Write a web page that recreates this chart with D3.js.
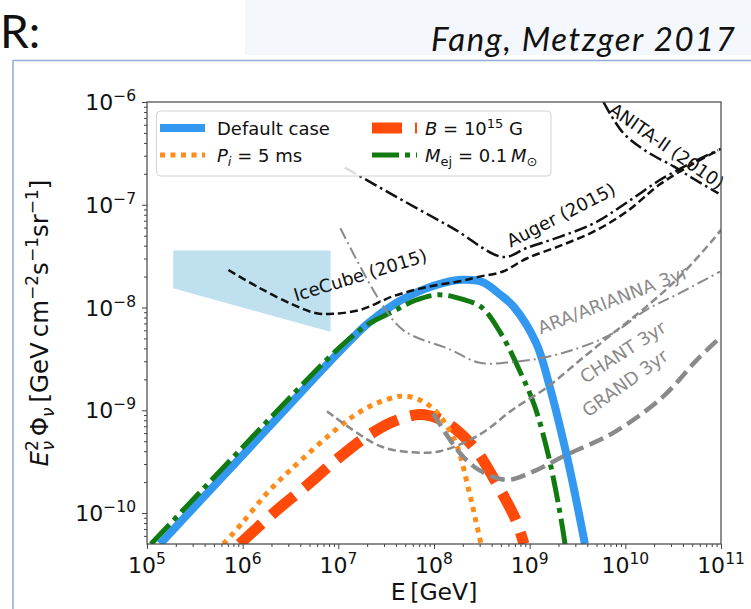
<!DOCTYPE html>
<html><head><meta charset="utf-8">
<script src="https://cdn.jsdelivr.net/npm/d3@7"></script>
<style>
body{margin:0;background:#fff;}
svg{display:block;}
</style></head><body>
<svg id="c" width="751" height="609"></svg>
<script>
// ---- model spectra: E (GeV) and E^2 Phi (GeV cm^-2 s^-1 sr^-1) ----
const E_default = [1.37e5, 3.16e5, 1e6, 3.16e6, 1e7, 2e7, 3.98e7, 7.94e7, 1.26e8, 2e8, 3.16e8, 5e8, 6.8e8, 1.17e9, 1.62e9, 2.34e9, 2.95e9, 3.78e9];
const F_default = [5e-11, 1.16e-10, 3.66e-10, 1.16e-9, 3.63e-9, 6.9e-9, 1.1e-8, 1.51e-8, 1.74e-8, 1.86e-8, 1.78e-8, 1.32e-8, 1.02e-8, 4.5e-9, 1.7e-9, 4.3e-10, 1.6e-10, 5e-11];

const E_mej = [1.1e5, 3.16e5, 1e6, 3.16e6, 1e7, 2e7, 3.7e7, 6.3e7, 1.12e8, 2e8, 3.16e8, 5e8, 7.9e8, 1.12e9, 1.58e9, 2.14e9, 2.34e9];
const F_mej = [5e-11, 1.41e-10, 4.37e-10, 1.35e-9, 3.98e-9, 6.8e-9, 9.1e-9, 1.17e-8, 1.33e-8, 1.2e-8, 1.0e-8, 5.6e-9, 2.4e-9, 1.12e-9, 3.55e-10, 8.5e-11, 5e-11];

const E_pi5 = [6.3e5, 1e6, 1.78e6, 3.16e6, 1e7, 1.58e7, 2.5e7, 4e7, 5e7, 7.1e7, 1e8, 1.32e8, 1.74e8, 2.3e8, 2.7e8, 3.1e8];
const F_pi5 = [5e-11, 8.1e-11, 1.55e-10, 2.63e-10, 6.8e-10, 9.3e-10, 1.17e-9, 1.35e-9, 1.38e-9, 1.26e-9, 1.02e-9, 7.4e-10, 4.5e-10, 1.7e-10, 8.9e-11, 5e-11];

const E_b15 = [9.3e5, 2.1e6, 4.7e6, 1.05e7, 2e7, 3.8e7, 7.1e7, 1.12e8, 1.7e8, 2.75e8, 4.5e8, 7.2e8, 8.7e8];
const F_b15 = [5e-11, 1e-10, 1.86e-10, 3.55e-10, 5.6e-10, 7.8e-10, 9.1e-10, 8.3e-10, 6.5e-10, 4.1e-10, 1.95e-10, 8.5e-11, 5e-11];

// ---- measured flux region and limits ----
const E_band = [1.88e5, 8.3e6, 8.3e6, 1.88e5];
const F_band = [3.58e-8, 3.58e-8, 5.8e-9, 1.54e-8];

const E_icecube = [7.1e5, 1.5e6, 3.4e6, 5.9e6, 8.9e6, 1.7e7, 3.76e7, 8.3e7, 1.86e8, 3e8, 5.25e8, 9.3e8, 2.1e9, 4.7e9, 1.02e10, 2.3e10, 5.1e10, 1e11];
const F_icecube = [2.32e-8, 1.55e-8, 1.06e-8, 8.8e-9, 8.7e-9, 9.5e-9, 1.29e-8, 1.58e-8, 1.8e-8, 2e-8, 2.24e-8, 3.0e-8, 4.0e-8, 5.5e-8, 8.5e-8, 1.58e-7, 2.5e-7, 3.5e-7];

const E_auger = [1.17e7, 4e7, 1.58e8, 5.3e8, 9.3e8, 2.1e9, 4.7e9, 1.02e10, 2.3e10, 5.1e10, 9.3e10];
const F_auger = [2.3e-7, 1.2e-7, 5.9e-8, 3.1e-8, 3.8e-8, 4.9e-8, 6.6e-8, 1.04e-7, 1.74e-7, 2.6e-7, 3.4e-7];

const E_anita = [5.9e9, 9.5e9, 1.67e10, 3.2e10, 5.1e10, 9.4e10];
const F_anita = [1e-6, 5e-7, 3.3e-7, 2.36e-7, 1.8e-7, 1.29e-7];

// ---- projected sensitivities ----
const E_ara = [1.05e7, 2.7e7, 4.8e7, 1.48e8, 3e8, 6.8e8, 1.5e9, 3.4e9, 7.4e9, 1.66e10, 3.7e10, 9.8e10];
const F_ara = [5.9e-8, 1.17e-8, 6e-9, 3.9e-9, 2.9e-9, 2.95e-9, 3.3e-9, 4.1e-9, 5.6e-9, 9.5e-9, 1.38e-8, 2.24e-8];

const E_chant = [7.6e6, 2.7e7, 6e7, 1.15e8, 3e8, 6.8e8, 1.5e9, 3.4e9, 7.4e9, 1.66e10, 3.7e10, 8.3e10, 1e11];
const F_chant = [9.8e-10, 4.5e-10, 3.9e-10, 4e-10, 5.8e-10, 1.03e-9, 1.66e-9, 3.1e-9, 5.6e-9, 1.02e-8, 2e-8, 4.6e-8, 5.7e-8];

const E_grand = [9.8e7, 1.86e8, 3e8, 5.7e8, 1e9, 2.45e9, 7.4e9, 2.46e10, 5.6e10, 9.8e10];
const F_grand = [9.3e-10, 3.85e-10, 2.6e-10, 2.1e-10, 2.45e-10, 3.7e-10, 6e-10, 1.35e-9, 3.1e-9, 5.1e-9];

// ---- axes ----
const xTickExp = [5, 6, 7, 8, 9, 10, 11];
const yTickExp = [-10, -9, -8, -7, -6];

// curve labels: text, E, flux, rotation (deg), colour
const curveLabels = [
  {t: "IceCube (2015)", e: 1.69e7, f: 2.07e-8, r: -17, c: "#111"},
  {t: "Auger (2015)", e: 2.12e9, f: 7.96e-8, r: -27, c: "#111"},
  {t: "ANITA-II (2010)", e: 2.72e10, f: 3.73e-7, r: 35, c: "#111"},
  {t: "ARA/ARIANNA 3yr", e: 7.4e9, f: 1.19e-8, r: -21, c: "#8a8a8a"},
  {t: "CHANT 3yr", e: 9.4e9, f: 3.7e-9, r: -33, c: "#8a8a8a"},
  {t: "GRAND 3yr", e: 9.9e9, f: 1.85e-9, r: -36, c: "#8a8a8a"}
];

const svg = d3.select("#c");
const FONT = "DejaVu Sans";
const L = 147, R = 721, T = 102, B = 544;

// slide decoration around the figure
svg.append("rect").attr("x", 245).attr("y", 0).attr("width", 506).attr("height", 55).attr("fill", "#f4f8fc");
svg.append("text").attr("x", 0).attr("y", 48).attr("font-family", "Lato").attr("font-size", 46).attr("fill", "#111").text("R:");
svg.append("text").attr("x", 735).attr("y", 51).attr("text-anchor", "end").attr("font-family", "Lato")
  .attr("font-style", "italic").attr("font-size", 33).attr("textLength", 304).attr("lengthAdjust", "spacing")
  .attr("fill", "#111").text("Fang, Metzger 2017");
svg.append("path").attr("d", "M13,609 V60.5 H751").attr("fill", "none").attr("stroke", "#93acd3").attr("stroke-width", 1.5);

const x = d3.scaleLog().domain([1e5, 1e11]).range([L, R]);
const y = d3.scaleLog().domain([5e-11, 1e-6]).range([B, T]);

svg.append("clipPath").attr("id", "plot").append("rect").attr("x", L).attr("y", T).attr("width", R - L).attr("height", B - T);
const g = svg.append("g").attr("clip-path", "url(#plot)");

const pairs = (E, F) => E.map((e, i) => [e, F[i]]);
const line = d3.line().x(d => x(d[0])).y(d => y(d[1])).curve(d3.curveCatmullRom.alpha(0.5));

// shaded flux region
g.append("path").attr("d", d3.line().x(d => x(d[0])).y(d => y(d[1]))(pairs(E_band, F_band)) + "Z")
  .attr("fill", "#bee0ef");

function draw(E, F, color, width, dash) {
  g.append("path").attr("d", line(pairs(E, F))).attr("fill", "none")
    .attr("stroke", color).attr("stroke-width", width)
    .attr("stroke-dasharray", dash || null);
}

// model curves
draw(E_default, F_default, "#3399f0", 8);
draw(E_mej, F_mej, "#117a11", 5, "27,6,5,6");
draw(E_b15, F_b15, "#ff4a0a", 11, "30,13");
draw(E_pi5, F_pi5, "#ff8c1a", 5, "5,5.5");

// limits and sensitivities
draw(E_ara, F_ara, "#8a8a8a", 2, "12,4,2,4");
draw(E_chant, F_chant, "#8a8a8a", 2.5, "8,4");
draw(E_grand, F_grand, "#8a8a8a", 4.5, "15,6.5");
draw(E_icecube, F_icecube, "#111", 2.5, "8,4");
draw(E_auger, F_auger, "#111", 2.5, "13,4,2.5,4");
draw(E_anita, F_anita, "#111", 2.5, "13,4,2.5,4");

// curve labels
curveLabels.forEach(d => {
  svg.append("text").attr("transform", `translate(${x(d.e)},${y(d.f)}) rotate(${d.r})`)
    .attr("text-anchor", "middle").attr("dominant-baseline", "central")
    .attr("font-family", FONT).attr("font-size", 18).attr("fill", d.c).text(d.t);
});

// axes
const minorX = [], minorY = [];
for (let p = 5; p < 11; p++) for (let k = 2; k <= 9; k++) minorX.push(k * Math.pow(10, p));
for (let p = -11; p < -6; p++) for (let k = 2; k <= 9; k++) { const v = k * Math.pow(10, p); if (v >= 5e-11 && v <= 1e-6) minorY.push(v); }

const axisColor = "#444";
function styleAxis(sel) {
  sel.select(".domain").remove();
  sel.selectAll("line").attr("stroke", axisColor).attr("stroke-width", 1);
}
svg.append("g").attr("transform", `translate(0,${B})`)
  .call(d3.axisBottom(x).tickValues(xTickExp.map(p => Math.pow(10, p))).tickSize(5).tickFormat("")).call(styleAxis);
svg.append("g").attr("transform", `translate(0,${B})`)
  .call(d3.axisBottom(x).tickValues(minorX).tickSize(3).tickFormat("")).call(styleAxis);
svg.append("g").attr("transform", `translate(${L},0)`)
  .call(d3.axisLeft(y).tickValues(yTickExp.map(p => Math.pow(10, p))).tickSize(5).tickFormat("")).call(styleAxis);
svg.append("g").attr("transform", `translate(${L},0)`)
  .call(d3.axisLeft(y).tickValues(minorY).tickSize(3).tickFormat("")).call(styleAxis);

svg.append("rect").attr("x", L).attr("y", T).attr("width", R - L).attr("height", B - T)
  .attr("fill", "none").attr("stroke", axisColor).attr("stroke-width", 1.2);

const minus = "\u2212";
xTickExp.forEach(p => {
  const t = svg.append("text").attr("x", x(Math.pow(10, p))).attr("y", B + 29).attr("text-anchor", "middle")
    .attr("font-family", FONT).attr("font-size", 22).attr("fill", "#111");
  t.append("tspan").text("10");
  t.append("tspan").attr("dy", -9).attr("font-size", 15.5).text(String(p));
});
yTickExp.forEach(p => {
  const t = svg.append("text").attr("x", L - 11).attr("y", y(Math.pow(10, p)) + 8).attr("text-anchor", "end")
    .attr("font-family", FONT).attr("font-size", 22).attr("fill", "#111");
  t.append("tspan").text("10");
  t.append("tspan").attr("dy", -9).attr("font-size", 15.5).text(minus + Math.abs(p));
});

// axis titles
svg.append("text").attr("x", (L + R) / 2).attr("y", 600).attr("text-anchor", "middle")
  .attr("font-family", FONT).attr("font-size", 23.5).attr("fill", "#111").text("E\u2009[GeV]");

const yl = svg.append("text").attr("transform", `translate(48,${(T + B) / 2}) rotate(-90)`)
  .attr("text-anchor", "middle").attr("font-family", FONT).attr("font-size", 24.5).attr("fill", "#111");
yl.append("tspan").attr("font-style", "italic").text("E");
yl.append("tspan").attr("font-size", 17).attr("dy", -10).text("2");
yl.append("tspan").attr("font-size", 17).attr("font-style", "italic").attr("dx", -10.5).attr("dy", 16).text("\u03bd");
yl.append("tspan").attr("dy", -6).text("\u2009\u03a6");
yl.append("tspan").attr("font-size", 17).attr("font-style", "italic").attr("dy", 6).text("\u03bd");
yl.append("tspan").attr("dy", -6).text("\u2009[GeV\u2009cm");
yl.append("tspan").attr("font-size", 17).attr("dy", -10).text(minus + "2");
yl.append("tspan").attr("dy", 10).text("s");
yl.append("tspan").attr("font-size", 17).attr("dy", -10).text(minus + "1");
yl.append("tspan").attr("dy", 10).text("sr");
yl.append("tspan").attr("font-size", 17).attr("dy", -10).text(minus + "1");
yl.append("tspan").attr("dy", 10).text("]");

// legend
const lg = svg.append("g");
lg.append("rect").attr("x", 156.5).attr("y", 111).attr("width", 394.5).attr("height", 65).attr("rx", 4)
  .attr("fill", "#fff").attr("fill-opacity", 0.85).attr("stroke", "#d2d2d2");
const legendItems = [
  {x: 160, y: 128, c: "#3399f0", w: 8, d: null},
  {x: 160, y: 155, c: "#ff8c1a", w: 5, d: "5,5.5"},
  {x: 372, y: 128, c: "#ff4a0a", w: 11, d: "30,13"},
  {x: 372, y: 155, c: "#117a11", w: 5, d: "27,6,5,6"}
];
legendItems.forEach(d => {
  lg.append("line").attr("x1", d.x).attr("x2", d.x + 45).attr("y1", d.y).attr("y2", d.y)
    .attr("stroke", d.c).attr("stroke-width", d.w).attr("stroke-dasharray", d.d);
});
function ltext(xp, yp) {
  return lg.append("text").attr("x", xp).attr("y", yp + 6.5).attr("font-family", FONT).attr("font-size", 18).attr("fill", "#111");
}
ltext(217, 128).text("Default case");
const t2 = ltext(217, 155);
t2.append("tspan").attr("font-style", "italic").text("P");
t2.append("tspan").attr("font-style", "italic").attr("font-size", 13).attr("dy", 4).text("i");
t2.append("tspan").attr("dy", -4).text(" = 5 ms");
const t3 = ltext(425, 128);
t3.append("tspan").attr("font-style", "italic").text("B");
t3.append("tspan").text(" = 10");
t3.append("tspan").attr("font-size", 13).attr("dy", -7).text("15");
t3.append("tspan").attr("dy", 7).text(" G");
const t4 = ltext(425, 155);
t4.append("tspan").attr("font-style", "italic").text("M");
t4.append("tspan").attr("font-size", 13).attr("dy", 4).text("ej");
t4.append("tspan").attr("dy", -4).text(" = 0.1\u2009");
t4.append("tspan").attr("font-style", "italic").text("M");
t4.append("tspan").attr("font-size", 13).attr("dy", 4).text("\u2299");
</script></body></html>
